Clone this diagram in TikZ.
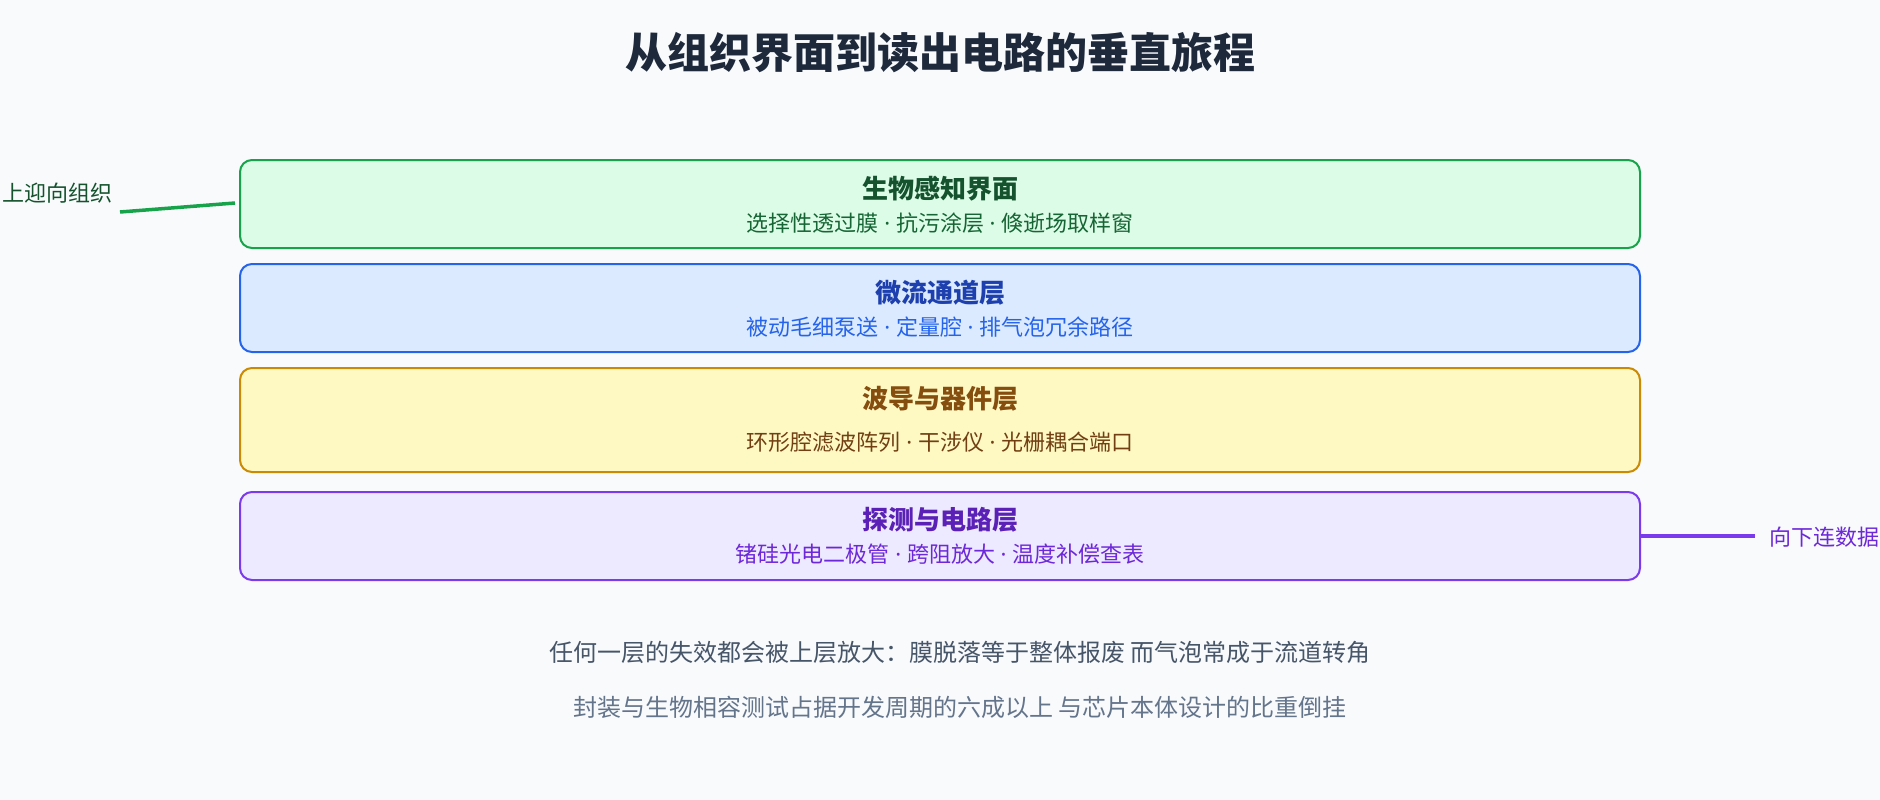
\documentclass[tikz,border=0pt]{standalone}
\usepackage{fontspec}
\setmainfont{Noto Sans CJK SC}
\newfontfamily\latinf{Noto Sans}
\newcommand\dotsep{{\latinf\ ·\ }}
\definecolor{bg}{HTML}{F8FAFC}
\definecolor{titlec}{HTML}{1E293B}
\definecolor{gfill}{HTML}{DCFCE7}\definecolor{gdraw}{HTML}{16A34A}\definecolor{gtit}{HTML}{14532D}\definecolor{gsub}{HTML}{166534}
\definecolor{bfill}{HTML}{DBEAFE}\definecolor{bdraw}{HTML}{2563EB}\definecolor{btit}{HTML}{1E40AF}\definecolor{bsub}{HTML}{2563EB}
\definecolor{yfill}{HTML}{FEF9C3}\definecolor{ydraw}{HTML}{CA8A04}\definecolor{ytit}{HTML}{854D0E}\definecolor{ysub}{HTML}{713F12}
\definecolor{pfill}{HTML}{EDE9FE}\definecolor{pdraw}{HTML}{7C3AED}\definecolor{ptit}{HTML}{5B21B6}\definecolor{psub}{HTML}{6D28D9}
\definecolor{foot1}{HTML}{475569}\definecolor{foot2}{HTML}{64748B}
\tikzset{
  layerbox/.style={rounded corners=12pt, line width=2pt, minimum width=1400pt, inner sep=0pt},
  laytitle/.style={anchor=base, font=\fontsize{26}{30}\selectfont\bfseries, inner sep=0pt},
  laysub/.style={anchor=base, font=\fontsize{22}{26}\selectfont, inner sep=0pt},
  sidelabel/.style={font=\fontsize{22}{26}\selectfont, inner sep=0pt},
  sideline/.style={line width=3.5pt},
  foottext/.style={anchor=base, inner sep=0pt, font=\fontsize{24}{28}\selectfont}
}
\begin{document}
\begin{tikzpicture}[x=1pt,y=-1pt]
\useasboundingbox[fill=bg] (0,0) rectangle (1880,800);
\node[anchor=base, inner sep=0pt, font=\fontsize{42}{50}\selectfont\bfseries, text=titlec] (title) at (940,69) {从组织界面到读出电路的垂直旅程};

\node[layerbox, fill=gfill, draw=gdraw, minimum height=88pt] (b1) at (940,204) {};
\node[laytitle, text=gtit] (b1t) at (940,198) {生物感知界面};
\node[laysub, text=gsub] (b1s) at (940,231.4) {选择性透过膜\dotsep 抗污涂层\dotsep 倏逝场取样窗};

\node[layerbox, fill=bfill, draw=bdraw, minimum height=88pt] (b2) at (940,308) {};
\node[laytitle, text=btit] (b2t) at (940,302) {微流通道层};
\node[laysub, text=bsub] (b2s) at (940,335.4) {被动毛细泵送\dotsep 定量腔\dotsep 排气泡冗余路径};

\node[layerbox, fill=yfill, draw=ydraw, minimum height=104pt] (b3) at (940,420) {};
\node[laytitle, text=ytit] (b3t) at (940,408) {波导与器件层};
\node[laysub, text=ysub] (b3s) at (940,450.4) {环形腔滤波阵列\dotsep 干涉仪\dotsep 光栅耦合端口};

\node[layerbox, fill=pfill, draw=pdraw, minimum height=88pt] (b4) at (940,536) {};
\node[laytitle, text=ptit] (b4t) at (940,529) {探测与电路层};
\node[laysub, text=psub] (b4s) at (940,562.4) {锗硅光电二极管\dotsep 跨阻放大\dotsep 温度补偿查表};

\node[sidelabel, anchor=base east, text=gtit] (ll) at (113,201.4) {向上迎向组织};
\coordinate (lstart) at (120,212);
\draw[sideline, draw=gdraw] (lstart) -- ([xshift=-4pt,yshift=1pt]b1.west);

\node[sidelabel, anchor=base west, text=psub] (rl) at (1769,545.4) {向下连数据};
\coordinate (rend) at (1755,536);
\draw[sideline, draw=pdraw] (b4.east) -- (rend);

\node[foottext, text=foot1] (f1) at (960,661) {任何一层的失效都会被上层放大：膜脱落等于整体报废 而气泡常成于流道转角};
\node[foottext, text=foot2] (f2) at (960,716) {封装与生物相容测试占据开发周期的六成以上 与芯片本体设计的比重倒挂};
\end{tikzpicture}
\end{document}
